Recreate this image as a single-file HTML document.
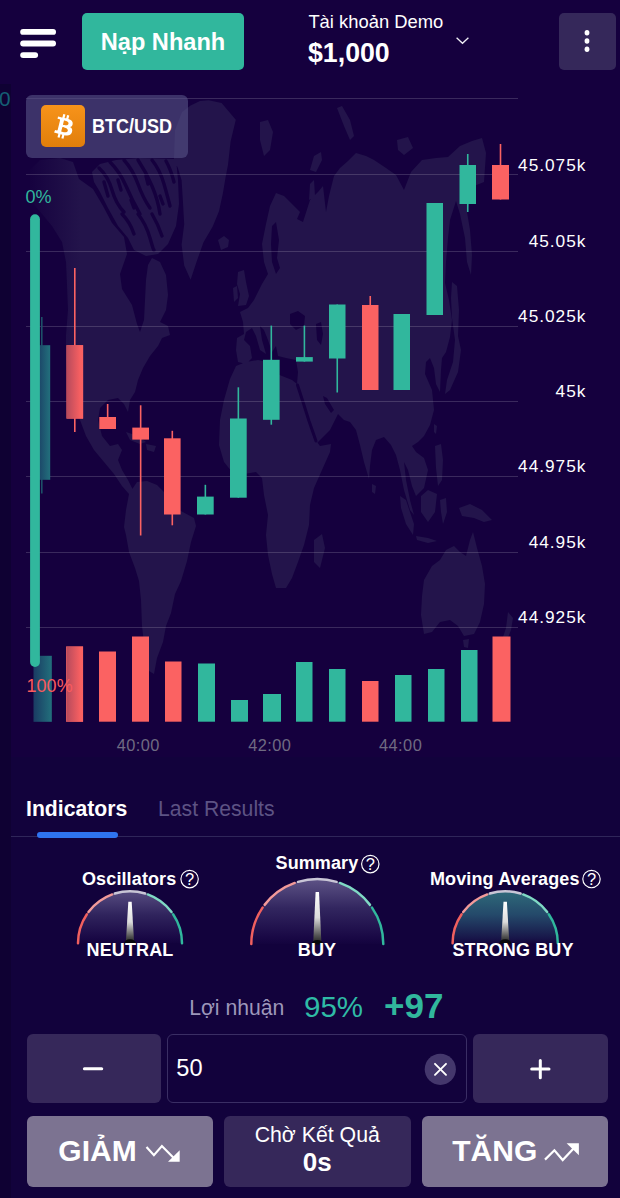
<!DOCTYPE html>
<html lang="vi">
<head>
<meta charset="utf-8">
<title>BTC/USD</title>
<style>
*{box-sizing:border-box;margin:0;padding:0}
html,body{width:620px;height:1198px;overflow:hidden;background:#12023c}
body{font-family:"Liberation Sans",sans-serif;color:#fff;position:relative;font-size:16px;line-height:20px}
.abs{position:absolute}
div{white-space:nowrap}
#hdr{position:absolute;left:0;top:0;width:620px;height:84px;background:#15003e}
#strip{position:absolute;left:0;top:84px;width:11px;height:1114px;background:#0f0133}
#nap{position:absolute;left:82px;top:13px;width:162px;height:57px;background:#31b79d;border-radius:5px;font-weight:bold;font-size:23.6px;line-height:58.2px;text-align:center;color:#fff}
#acc1{position:absolute;left:308.4px;top:12px;font-size:18.4px;line-height:20px}
#acc2{position:absolute;left:308px;top:38.3px;font-size:27.6px;line-height:30px;font-weight:bold;transform:scaleX(.968);transform-origin:0 50%}
#menu{position:absolute;left:559px;top:13px;width:57px;height:57px;background:#35285a;border-radius:5px}
#pair{position:absolute;left:26px;top:95px;width:162px;height:63px;background:rgba(86,84,135,.6);border-radius:6px}
#btc{position:absolute;left:15px;top:10px;width:44px;height:42px;border-radius:5px;background:linear-gradient(180deg,#f7931a 0%,#e17e0b 100%)}
#pairt{position:absolute;left:66px;top:18.5px;font-weight:bold;font-size:20.5px;line-height:24px;transform:scaleX(.878);transform-origin:0 50%}
.tab{position:absolute;top:797px;font-size:21.2px;line-height:24px}
.gt{position:absolute;font-weight:bold;font-size:18px;letter-spacing:.12px;line-height:20px;text-align:center}
.q{display:inline-block;width:17px;height:17px;border:1.5px solid #fff;border-radius:50%;font-size:13px;line-height:14px;font-weight:normal;text-align:center;vertical-align:1px;margin-left:3px}
.btn{position:absolute;background:#36285a;border-radius:6px}
.big{position:absolute;top:1116px;height:71.4px;border-radius:6px;background:#7c7391}
.bigt{position:absolute;font-weight:bold;font-size:30px;line-height:34px}
svg{display:block;overflow:visible}
svg text{font-family:"Liberation Sans",sans-serif}
</style>
</head>
<body>
<div id="hdr"></div>
<div class="abs" style="left:11px;top:84px;width:609px;height:673px;background:#15003e"></div>
<div id="strip"></div>
<div class="abs" style="left:-12.6px;top:86.5px;font-size:20.8px;line-height:24px;color:#155f74">00</div>

<!-- header -->
<svg class="abs" style="left:0;top:0" width="80" height="83" viewBox="0 0 80 83">
 <g stroke="#fff" stroke-width="5.8" stroke-linecap="round">
  <line x1="23.1" y1="31.9" x2="53.1" y2="31.9"/><line x1="23.1" y1="43.5" x2="53.1" y2="43.5"/><line x1="23.1" y1="55.1" x2="35.2" y2="55.1"/>
 </g>
</svg>
<div id="nap">Nạp Nhanh</div>
<div id="acc1">Tài khoản Demo</div>
<div id="acc2">$1,000</div>
<svg class="abs" style="left:450px;top:30px" width="24" height="20" viewBox="450 30 24 20"><path d="M456.6 37.7 L462.5 43.3 L468.4 37.7" fill="none" stroke="#f0eef6" stroke-width="1.3"/></svg>
<div id="menu"><svg width="57" height="57" viewBox="0 0 57 57"><ellipse cx="28" cy="19.7" rx="2.4" ry="2.7" fill="#fff"/><ellipse cx="28" cy="28" rx="2.4" ry="2.7" fill="#fff"/><ellipse cx="28" cy="36.3" rx="2.4" ry="2.7" fill="#fff"/></svg></div>

<!-- chart -->
<svg id="chart" class="abs" style="left:0;top:83px" width="620" height="700" viewBox="0 83 620 700">
 <defs>
  <linearGradient id="fadeBg" x1="0" y1="0" x2="1" y2="0"><stop offset="0" stop-color="#15003e"/><stop offset=".25" stop-color="#15003e" stop-opacity=".95"/><stop offset="1" stop-color="#15003e" stop-opacity="0"/></linearGradient>
  <linearGradient id="fadeG" x1="0" y1="0" x2="1" y2="0"><stop offset="0" stop-color="#1a3b63"/><stop offset="1" stop-color="#22707c"/></linearGradient>
  <linearGradient id="fadeR" x1="0" y1="0" x2="1" y2="0"><stop offset="0" stop-color="#b64a5c"/><stop offset=".85" stop-color="#f96061"/><stop offset="1" stop-color="#fb6262"/></linearGradient>
 </defs>
 <g id="map" fill="#23144b">
 <path d="M30 200 L30 170 L40 160 L60 158 L73 162 L79 179 L93 189 L103 206 L112 223 L124 237 L127 254 L120 274 L122 289 L132 305 L137 324 L140 332 L144 320 L145 300 L146 280 L148 265 L152 258 L160 262 L166 275 L168 295 L166 310 L160 322 L168 326 L170 335 L162 338 L158 346 L150 356 L143 368 L138 380 L135 392 L130 400 L128 412 L124 404 L118 398 L108 400 L100 408 L98 420 L102 436 L110 446 L118 444 L122 450 L118 460 L122 470 L128 480 L133 490 L129 494 L122 486 L114 474 L104 462 L94 450 L86 436 L80 420 L74 405 L69 385 L66 360 L66 335 L68 310 L67 285 L66 262 L62 242 L52 226 L42 214Z M92 172 L100 164 L116 160 L140 158 L176 159 L178 180 L179 204 L176 226 L168 244 L158 254 L146 256 L134 250 L128 238 L118 226 L108 208 L100 192 L94 182Z M190.6 105.5 L200 101 L208.7 100.3 L221.6 102.9 L235.8 119.7 L230.6 141.6 L228 164.8 L225.5 177.7 L222.9 193.2 L219 211.3 L212.6 226.8 L203.5 242.3 L197.1 260.3 L190.6 279.7 L184.2 265.5 L181.6 244.8 L184.2 224.2 L182.9 201 L181.6 180.3 L177.7 167.4 L173.9 159.7 L175 130 L182 112Z M218 240 L224 236 L229 240 L228 247 L221 250Z M260 122 L268 120 L273 132 L270 150 L264 156 L260 140Z M310 170 L314 156 L321 152 L322 160 L316 172Z M309 200 L310 184 L314 180 L315 196Z M337 108 L342 106 L350 120 L354 136 L350 140 L344 126Z M397 140 L408 137 L413 148 L404 155 L398 150Z M276 193 L284 196 L292 204 L300 212 L297 219 L303 222 L310 200 L318 192 L323 186 L326 212 L329 196 L334 176 L340 168 L348 161 L356 153 L366 156 L374 160 L386 168 L396 175 L404 190 L411 172 L422 160 L436 158 L448 157 L460 146 L472 141 L482 138 L486 153 L484 182 L474 186 L467 212 L470 230 L472 255 L471 275 L467 262 L465 238 L460 214 L456 201 L450 220 L448 238 L446 262 L445 283 L449 300 L452 320 L450 337 L446 352 L442 358 L441 370 L440 392 L436 384 L434 368 L430 358 L426 362 L425 374 L432 390 L434 410 L430 425 L424 436 L418 442 L412 446 L416 452 L424 458 L428 470 L424 488 L416 496 L412 486 L408 470 L404 462 L406 480 L410 500 L414 515 L410 510 L404 490 L400 470 L396 455 L391 445 L384 437 L376 440 L372 450 L370 466 L369 479 L364 462 L360 445 L356 430 L350 422 L344 420 L338 414 L330 430 L317 443 L308 420 L300 395 L297 384 L298 372 L296 360 L286 358 L278 356 L276 346 L272 352 L268 340 L264 330 L260 326 L262 340 L266 354 L260 350 L256 336 L252 328 L246 332 L244 340 L250 346 L252 358 L246 364 L238 362 L236 350 L237 338 L244 334 L243 322 L240 312 L248 308 L254 300 L258 292 L262 284 L268 274 L264 262 L262 244 L266 224 L270 206Z M238 272 L244 270 L246 282 L249 296 L246 305 L238 306 L240 294 L237 284Z M233 288 L237 286 L238 298 L234 302Z M230 379 L236 366 L246 362 L258 360 L268 362 L272 372 L282 376 L292 380 L297 384 L302 398 L308 420 L314 438 L320 446 L331 444 L330 452 L322 470 L314 488 L310 505 L309 525 L304 545 L298 562 L292 578 L286 588 L276 588 L272 574 L268 555 L266 535 L268 515 L264 495 L262 478 L256 472 L244 474 L232 472 L224 462 L219 445 L220 420 L224 400Z M314 540 L322 534 L325 548 L320 568 L314 562Z M129 494 L137 482 L147 481 L157 485 L166 494 L179 510 L194 518 L196 526 L191 542 L187 561 L181 581 L175 594 L171 613 L166 626 L163 642 L157 658 L154 674 L149 671 L145 652 L142 626 L141 600 L139 581 L135 568 L129 552 L126 535 L124 527 L126 510Z M422 596 L424 580 L432 566 L440 560 L446 550 L454 546 L460 552 L466 556 L470 540 L473 532 L477 548 L482 566 L485 584 L484 604 L480 622 L474 634 L464 636 L458 626 L450 620 L440 622 L432 632 L424 634 L421 615Z M463 640 L469 639 L468 648 L464 647Z M508 612 L513 618 L511 630 L507 640 L504 648 L502 640 L506 628Z M459 508 L470 504 L482 510 L492 520 L484 522 L474 518 L462 516Z M421 496 L428 490 L437 494 L435 512 L428 522 L421 512Z M400 496 L406 500 L414 524 L413 535 L406 524 L401 508Z M416 536 L428 538 L437 541 L428 543 L417 540Z M440 500 L446 498 L447 512 L443 524 L441 512Z M435 446 L441 444 L443 460 L442 480 L438 486 L436 468Z M452 282 L457 286 L459 310 L458 336 L461 350 L458 372 L450 390 L445 394 L447 380 L453 362 L455 340 L452 318 L451 298Z M372 484 L376 486 L375 494 L372 492Z M434 424 L437 426 L436 434 L434 432Z M126 432 L138 436 L146 442 L140 444 L130 440Z M146 444 L156 446 L154 452 L147 450Z"/>
<path fill="#15003e" d="M272 226 L276 222 L279 240 L277 258 L280 268 L276 274 L272 262 L271 244Z M290 314 L298 311 L305 316 L304 326 L296 330 L290 324Z M316 324 L321 322 L323 334 L321 345 L317 340Z M323 396 L327 398 L334 410 L331 413 L325 404Z"/>
<path fill="none" stroke="#15003e" stroke-width="3" stroke-linejoin="round" stroke-linecap="round" d="M297.5 385 L303 402 L309 421 L316 441"/>
<path fill="none" stroke="#15003e" stroke-width="3.4" stroke-linejoin="round" stroke-linecap="round" d="M99 168 Q108 176 112 190 T124 212 M110 162 Q120 172 126 186 T140 214 M124 160 Q133 170 138 184 T150 208 M138 160 Q146 172 152 186 T160 214 M152 160 Q160 170 164 184 T170 206 M166 161 Q171 170 174 182 M122 214 Q130 222 134 234 M138 214 Q146 224 150 238 T154 250 M152 214 Q158 224 162 236 M104 182 L108 196 M118 180 L121 190 M146 176 L148 184 M131 200 L134 208 M160 196 L163 204"/>
 </g>
 <rect x="11" y="84" width="70" height="673" fill="url(#fadeBg)"/>
 <g id="grid" stroke="#fff" stroke-opacity=".16" stroke-width="1" shape-rendering="crispEdges">
  <line x1="26" x2="518" y1="98.5" y2="98.5"/><line x1="26" x2="518" y1="174.5" y2="174.5"/><line x1="26" x2="518" y1="251.5" y2="251.5"/><line x1="26" x2="518" y1="326.5" y2="326.5"/><line x1="26" x2="518" y1="401.5" y2="401.5"/><line x1="26" x2="518" y1="476.5" y2="476.5"/><line x1="26" x2="518" y1="552.5" y2="552.5"/><line x1="26" x2="518" y1="627.5" y2="627.5"/>
 </g>
 <!-- faded first candle / volume -->
 <line x1="41.8" x2="41.8" y1="317" y2="493.5" stroke="#1d5068" stroke-width="1.6"/>
 <rect x="36" y="345.2" width="14.2" height="134.6" fill="url(#fadeG)"/>
 <rect x="33.5" y="655.8" width="18.3" height="66" fill="url(#fadeG)"/>
 <g id="candles">
  <line x1="74.8" x2="74.8" y1="268" y2="432" stroke="#fb6262" stroke-width="1.6"/>
  <rect x="66.5" y="345.2" width="16.599999999999994" height="73.40000000000003" fill="#fb6262"/>
  <line x1="107.65" x2="107.65" y1="404" y2="429" stroke="#fb6262" stroke-width="1.6"/>
  <rect x="99.3" y="417" width="16.700000000000003" height="12" fill="#fb6262"/>
  <line x1="140.65" x2="140.65" y1="405.3" y2="535.5" stroke="#fb6262" stroke-width="1.6"/>
  <rect x="132.3" y="427.6" width="16.69999999999999" height="12.0" fill="#fb6262"/>
  <line x1="172.3" x2="172.3" y1="430.8" y2="525.3" stroke="#fb6262" stroke-width="1.6"/>
  <rect x="164" y="438.3" width="16.599999999999994" height="76.19999999999999" fill="#fb6262"/>
  <line x1="205.35" x2="205.35" y1="484.8" y2="514.5" stroke="#31b79d" stroke-width="1.6"/>
  <rect x="197" y="496.6" width="16.69999999999999" height="17.899999999999977" fill="#31b79d"/>
  <line x1="238.35" x2="238.35" y1="387.3" y2="497.7" stroke="#31b79d" stroke-width="1.6"/>
  <rect x="230" y="418.5" width="16.69999999999999" height="79.19999999999999" fill="#31b79d"/>
  <line x1="271.3" x2="271.3" y1="325.6" y2="424.7" stroke="#31b79d" stroke-width="1.6"/>
  <rect x="263" y="359.8" width="16.600000000000023" height="60.0" fill="#31b79d"/>
  <line x1="304.4" x2="304.4" y1="325.6" y2="361.6" stroke="#31b79d" stroke-width="1.6"/>
  <rect x="296" y="357.1" width="16.80000000000001" height="4.5" fill="#31b79d"/>
  <line x1="337.25" x2="337.25" y1="304.5" y2="392.5" stroke="#31b79d" stroke-width="1.6"/>
  <rect x="329" y="304.5" width="16.5" height="54.0" fill="#31b79d"/>
  <line x1="370.25" x2="370.25" y1="296" y2="390" stroke="#fb6262" stroke-width="1.6"/>
  <rect x="362" y="305" width="16.5" height="85" fill="#fb6262"/>
  <line x1="401.75" x2="401.75" y1="314" y2="390" stroke="#31b79d" stroke-width="1.6"/>
  <rect x="393.5" y="314" width="16.5" height="76" fill="#31b79d"/>
  <line x1="434.75" x2="434.75" y1="203" y2="315" stroke="#31b79d" stroke-width="1.6"/>
  <rect x="426.5" y="203" width="16.5" height="112" fill="#31b79d"/>
  <line x1="467.75" x2="467.75" y1="154" y2="212" stroke="#31b79d" stroke-width="1.6"/>
  <rect x="459.5" y="165" width="16.5" height="39" fill="#31b79d"/>
  <line x1="500.5" x2="500.5" y1="144" y2="199.5" stroke="#fb6262" stroke-width="1.6"/>
  <rect x="492" y="165" width="17" height="34.5" fill="#fb6262"/>
  <rect x="66" y="646.5" width="17" height="75.20000000000005" fill="#fb6262"/>
  <rect x="99" y="651.5" width="17" height="70.20000000000005" fill="#fb6262"/>
  <rect x="132" y="636.5" width="17" height="85.20000000000005" fill="#fb6262"/>
  <rect x="165" y="661.5" width="16.5" height="60.200000000000045" fill="#fb6262"/>
  <rect x="198" y="663.5" width="17" height="58.200000000000045" fill="#31b79d"/>
  <rect x="231" y="700" width="17" height="21.700000000000045" fill="#31b79d"/>
  <rect x="263" y="694" width="18" height="27.700000000000045" fill="#31b79d"/>
  <rect x="296" y="662" width="16.5" height="59.700000000000045" fill="#31b79d"/>
  <rect x="329" y="669" width="16.5" height="52.700000000000045" fill="#31b79d"/>
  <rect x="362" y="681" width="16.5" height="40.700000000000045" fill="#fb6262"/>
  <rect x="395" y="675" width="16.5" height="46.700000000000045" fill="#31b79d"/>
  <rect x="428" y="669" width="16.5" height="52.700000000000045" fill="#31b79d"/>
  <rect x="461" y="650" width="16.5" height="71.70000000000005" fill="#31b79d"/>
  <rect x="492.5" y="636.5" width="18.0" height="85.20000000000005" fill="#fb6262"/>
 </g>
 <rect x="66.5" y="345.2" width="16.6" height="73.4" fill="url(#fadeR)"/>
 <rect x="66.4" y="646.5" width="16.7" height="75.2" fill="url(#fadeR)"/>
 <!-- left slider -->
 <rect x="30.1" y="214.3" width="9.8" height="452.6" rx="4.9" fill="#31b79d"/>
 <g font-size="16" fill="#fff">
  <text transform="translate(586.4 170.7) scale(1.08 1)" text-anchor="end" letter-spacing=".91">45.075k</text>
  <text transform="translate(586.4 247.2) scale(1.08 1)" text-anchor="end" letter-spacing=".91">45.05k</text>
  <text transform="translate(586.4 322.3) scale(1.08 1)" text-anchor="end" letter-spacing=".91">45.025k</text>
  <text transform="translate(586.4 397.2) scale(1.08 1)" text-anchor="end" letter-spacing=".91">45k</text>
  <text transform="translate(586.4 472.3) scale(1.08 1)" text-anchor="end" letter-spacing=".91">44.975k</text>
  <text transform="translate(586.4 548.3) scale(1.08 1)" text-anchor="end" letter-spacing=".91">44.95k</text>
  <text transform="translate(586.4 623.4) scale(1.08 1)" text-anchor="end" letter-spacing=".91">44.925k</text>
 </g>
 <g font-size="15.6" fill="#6f6b82">
  <text transform="translate(138.3 750.6) scale(1.05 1)" text-anchor="middle" letter-spacing=".42">40:00</text>
  <text transform="translate(269.79999999999995 750.6) scale(1.05 1)" text-anchor="middle" letter-spacing=".42">42:00</text>
  <text transform="translate(400.59999999999997 750.6) scale(1.05 1)" text-anchor="middle" letter-spacing=".42">44:00</text>
 </g>
 <text x="25.6" y="203.3" font-size="18" fill="#31b79d">0%</text>
 <text x="26.6" y="692.4" font-size="18" fill="#fa5a5d">100%</text>
</svg>

<div id="pair"><div id="btc"><svg width="44" height="42" viewBox="0 0 44 42"><path transform="translate(22.35 21.35) scale(1.24) translate(-15.65 -16)" fill="#fff" d="M23.189 14.02c.314-2.096-1.283-3.223-3.465-3.975l.708-2.84-1.728-.43-.69 2.765c-.454-.114-.92-.22-1.385-.326l.695-2.783L15.596 6l-.708 2.839c-.376-.086-.746-.17-1.104-.26l.002-.009-2.384-.595-.46 1.846s1.283.294 1.256.312c.7.175.826.638.805 1.006l-.806 3.235c.048.012.11.03.18.057l-.183-.045-1.13 4.532c-.086.212-.303.531-.793.41.018.025-1.256-.313-1.256-.313l-.858 1.978 2.25.561c.418.105.828.215 1.231.318l-.715 2.872 1.727.43.708-2.84c.472.127.93.245 1.378.357l-.706 2.828 1.728.43.715-2.866c2.948.558 5.164.333 6.097-2.333.752-2.146-.037-3.385-1.588-4.192 1.13-.26 1.98-1.003 2.207-2.538zm-3.95 5.538c-.533 2.147-4.148.986-5.32.695l.95-3.805c1.172.293 4.929.872 4.37 3.11zm.535-5.569c-.487 1.953-3.495.96-4.47.717l.86-3.45c.975.243 4.118.696 3.61 2.733z"/></svg></div><div id="pairt">BTC/USD</div></div>

<!-- tabs -->
<div class="tab" style="left:26px;font-weight:bold;color:#fff">Indicators</div>
<div class="tab" style="left:158px;color:#5d5384">Last Results</div>
<div class="abs" style="left:11px;top:836px;width:609px;height:1px;background:#2f2659"></div>
<div class="abs" style="left:37px;top:832px;width:81px;height:6px;border-radius:3px;background:#2f74f0"></div>

<!-- gauges -->
<svg class="abs" style="left:0;top:840px" width="620" height="140" viewBox="0 840 620 140">
 <defs><linearGradient id="g1" x1="0" y1="0" x2="0" y2="1"><stop offset="0" stop-color="#574c80"/><stop offset=".45" stop-color="#30245d"/><stop offset=".9" stop-color="#190845"/><stop offset="1" stop-color="#190845" stop-opacity=".2"/></linearGradient><linearGradient id="g1n" x1="0" y1="0" x2="0" y2="1"><stop offset="0" stop-color="#ffffff"/><stop offset=".5" stop-color="#dcdcdc"/><stop offset=".85" stop-color="#555"/><stop offset="1" stop-color="#222"/></linearGradient></defs>
<path d="M78 943.3 A52 52 0 0 1 182 943.3 Z" fill="url(#g1)"/>
<path d="M78.00 943.30 A52 52 0 0 1 86.89 914.22" fill="none" stroke="#f0605f" stroke-width="2.5" stroke-linecap="round"/>
<path d="M88.47 912.01 A52 52 0 0 1 112.21 894.44" fill="none" stroke="#f29a99" stroke-width="2.5" stroke-linecap="round"/>
<path d="M114.80 893.57 A52 52 0 0 1 145.20 893.57" fill="none" stroke="#c9c6d6" stroke-width="2.5" stroke-linecap="round"/>
<path d="M147.79 894.44 A52 52 0 0 1 171.53 912.01" fill="none" stroke="#7fd9c4" stroke-width="2.5" stroke-linecap="round"/>
<path d="M173.11 914.22 A52 52 0 0 1 182.00 943.30" fill="none" stroke="#31b79d" stroke-width="2.5" stroke-linecap="round"/>
<path d="M128.3 901.6999999999999 L131.7 901.6999999999999 L134.1 942.3 L125.9 942.3 Z" fill="url(#g1n)"/>
<path d="M124 943.8 A6 4.6 0 0 1 136 943.8 Z" fill="#08080c"/>
 <defs><linearGradient id="g2" x1="0" y1="0" x2="0" y2="1"><stop offset="0" stop-color="#5e5386"/><stop offset=".45" stop-color="#32265f"/><stop offset=".9" stop-color="#190845"/><stop offset="1" stop-color="#190845" stop-opacity=".2"/></linearGradient><linearGradient id="g2n" x1="0" y1="0" x2="0" y2="1"><stop offset="0" stop-color="#ffffff"/><stop offset=".5" stop-color="#dcdcdc"/><stop offset=".85" stop-color="#555"/><stop offset="1" stop-color="#222"/></linearGradient></defs>
<path d="M251.3 944 A66 65 0 0 1 383.3 944 Z" fill="url(#g2)"/>
<path d="M251.30 944.00 A66 65 0 0 1 262.58 907.65" fill="none" stroke="#f0605f" stroke-width="2.5" stroke-linecap="round"/>
<path d="M264.59 904.88 A66 65 0 0 1 294.73 882.92" fill="none" stroke="#f29a99" stroke-width="2.5" stroke-linecap="round"/>
<path d="M298.00 881.84 A66 65 0 0 1 336.60 881.84" fill="none" stroke="#c9c6d6" stroke-width="2.5" stroke-linecap="round"/>
<path d="M339.87 882.92 A66 65 0 0 1 370.01 904.88" fill="none" stroke="#7fd9c4" stroke-width="2.5" stroke-linecap="round"/>
<path d="M372.02 907.65 A66 65 0 0 1 383.30 944.00" fill="none" stroke="#31b79d" stroke-width="2.5" stroke-linecap="round"/>
<path d="M315.6 892.0 L319.0 892.0 L321.40000000000003 943 L313.2 943 Z" fill="url(#g2n)"/>
<path d="M311.3 944.5 A6 4.6 0 0 1 323.3 944.5 Z" fill="#08080c"/>
 <defs><linearGradient id="g3" x1="0" y1="0" x2="0" y2="1"><stop offset="0" stop-color="#2f6a7a"/><stop offset=".45" stop-color="#24496a"/><stop offset=".9" stop-color="#181649"/><stop offset="1" stop-color="#181649" stop-opacity=".2"/></linearGradient><linearGradient id="g3n" x1="0" y1="0" x2="0" y2="1"><stop offset="0" stop-color="#ffffff"/><stop offset=".5" stop-color="#dcdcdc"/><stop offset=".85" stop-color="#555"/><stop offset="1" stop-color="#222"/></linearGradient></defs>
<path d="M452.59999999999997 943.3 A52.6 52 0 0 1 557.8 943.3 Z" fill="url(#g3)"/>
<path d="M452.60 943.30 A52.6 52 0 0 1 461.59 914.22" fill="none" stroke="#f0605f" stroke-width="2.5" stroke-linecap="round"/>
<path d="M463.19 912.01 A52.6 52 0 0 1 487.21 894.44" fill="none" stroke="#f29a99" stroke-width="2.5" stroke-linecap="round"/>
<path d="M489.82 893.57 A52.6 52 0 0 1 520.58 893.57" fill="none" stroke="#c9c6d6" stroke-width="2.5" stroke-linecap="round"/>
<path d="M523.19 894.44 A52.6 52 0 0 1 547.21 912.01" fill="none" stroke="#7fd9c4" stroke-width="2.5" stroke-linecap="round"/>
<path d="M548.81 914.22 A52.6 52 0 0 1 557.80 943.30" fill="none" stroke="#31b79d" stroke-width="2.5" stroke-linecap="round"/>
<path d="M503.5 901.6999999999999 L506.9 901.6999999999999 L509.3 942.3 L501.09999999999997 942.3 Z" fill="url(#g3n)"/>
<path d="M499.2 943.8 A6 4.6 0 0 1 511.2 943.8 Z" fill="#08080c"/>
</svg>
<div class="gt" style="left:82px;top:869px">Oscillators</div>
<div class="gt" style="left:275.5px;top:853px">Summary</div>
<div class="gt" style="left:430px;top:869px">Moving Averages</div>
<svg class="abs" style="left:0;top:850px" width="620" height="40" viewBox="0 850 620 40">
 <g fill="none" stroke="#fff" stroke-width="1.15"><circle cx="189.6" cy="879.1" r="8.7"/><circle cx="370.3" cy="864.1" r="8.7"/><circle cx="591.5" cy="879" r="8.7"/></g>
 <g fill="#fff" font-size="16.5" text-anchor="middle"><text x="189.7" y="885.3">?</text><text x="370.4" y="870.3">?</text><text x="591.6" y="885.2">?</text></g>
</svg>
<div class="gt" style="left:30px;width:200px;top:940px">NEUTRAL</div>
<div class="gt" style="left:217px;width:200px;top:940px">BUY</div>
<div class="gt" style="left:413px;width:200px;top:940px">STRONG BUY</div>

<!-- controls -->
<div class="abs" style="left:189.2px;top:995.6px;font-size:21.2px;line-height:24px;color:#9d97ba">Lợi nhuận</div>
<div class="abs" style="left:304px;top:989.6px;font-size:29.5px;line-height:34px;color:#2fbba6">95%</div>
<div class="abs" style="left:384px;top:985px;font-size:35px;line-height:42px;font-weight:bold;color:#31b79d">+97</div>

<div class="btn" style="left:26.5px;top:1034px;width:134.5px;height:69.4px"></div>
<div class="abs" style="left:167px;top:1034px;width:299.6px;height:69.4px;border:1px solid #3a2e64;border-radius:6px;background:#12023c"></div>
<div class="abs" style="left:176.3px;top:1054px;font-size:23.6px;line-height:28px">50</div>
<div class="btn" style="left:473px;top:1034px;width:135px;height:69.4px"></div>
<svg class="abs" style="left:0;top:1030px" width="620" height="80" viewBox="0 1030 620 80">
 <g stroke="#fff" stroke-width="3" stroke-linecap="round" fill="none">
  <path d="M84.4 1068.8 H101.7"/>
  <path d="M531.7 1069 H549 M540.3 1060.4 V1077.7"/>
 </g>
 <circle cx="440.3" cy="1069.3" r="15.6" fill="#44376c"/>
 <path d="M435 1063.8 L446 1074.8 M446 1063.8 L435 1074.8" stroke="#fff" stroke-width="1.9" stroke-linecap="round"/>
</svg>

<div class="big" style="left:26.5px;width:186px"></div>
<div class="bigt" style="left:58.3px;top:1134px">GIẢM</div>
<svg class="abs" style="left:145px;top:1140px" width="40" height="26" viewBox="0 0 40 26"><path d="M1.5 7.1 L8.9 15.2 L16.9 6.1 L30 19.3" fill="none" stroke="#fff" stroke-width="2.2"/><path d="M34.7 21.7 L34.7 10.3 L23 21.7 Z" fill="#fff"/></svg>
<div class="btn" style="left:224px;top:1116px;width:186.5px;height:71.4px"></div>
<div class="abs" style="left:224px;width:186.5px;top:1123px;text-align:center;font-size:21.3px;line-height:24px">Chờ Kết Quả</div>
<div class="abs" style="left:224px;width:186.5px;top:1147px;text-align:center;font-size:26px;line-height:30px;font-weight:bold">0s</div>
<div class="big" style="left:422px;width:186px"></div>
<div class="bigt" style="left:452.3px;top:1134px">TĂNG</div>
<svg class="abs" style="left:543px;top:1140px" width="40" height="26" viewBox="0 0 40 26"><path d="M2 19.6 L11.4 10.3 L19.7 20 L31 8" fill="none" stroke="#fff" stroke-width="2.2"/><path d="M35.9 3.2 L35.9 15.2 L23.6 3.2 Z" fill="#fff"/></svg>
</body>
</html>
